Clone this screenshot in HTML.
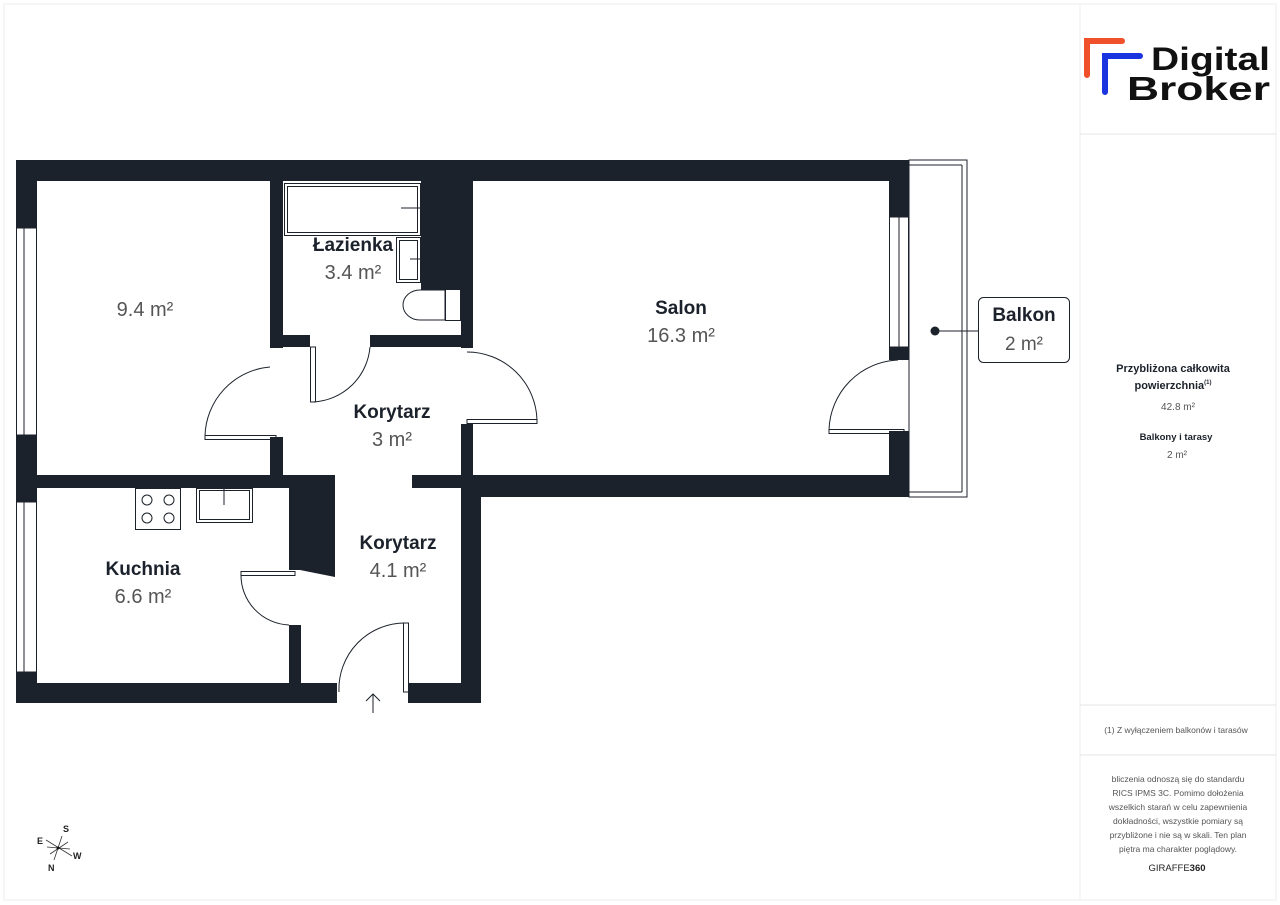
<!DOCTYPE html>
<html><head><meta charset="utf-8"><style>
html,body{margin:0;padding:0;background:#fff;}
svg{display:block;}
.b{font-family:"Liberation Sans",sans-serif;font-weight:bold;fill:#1c222b;}
.r{font-family:"Liberation Sans",sans-serif;fill:#555;}
</style></head><body>
<svg width="1280" height="905" viewBox="0 0 1280 905" xmlns="http://www.w3.org/2000/svg">
<rect x="4" y="4" width="1272" height="896" fill="none" stroke="#eee" stroke-width="1"/>
<line x1="1080" y1="4" x2="1080" y2="900" stroke="#eee"/>
<line x1="1080" y1="134" x2="1276" y2="134" stroke="#e6e6e6"/>
<line x1="1080" y1="705" x2="1276" y2="705" stroke="#e6e6e6"/>
<line x1="1080" y1="755" x2="1276" y2="755" stroke="#e6e6e6"/>
<!-- logo -->
<path d="M1087 75 V41 H1122" fill="none" stroke="#f0502a" stroke-width="6" stroke-linecap="round"/>
<path d="M1105 92 V56 H1140" fill="none" stroke="#1a35e0" stroke-width="6" stroke-linecap="round"/>
<text x="1151" y="70" font-family="Liberation Sans,sans-serif" font-weight="bold" font-size="32" fill="#111" textLength="119" lengthAdjust="spacingAndGlyphs">Digital</text>
<text x="1127" y="100" font-family="Liberation Sans,sans-serif" font-weight="bold" font-size="33" fill="#111" textLength="143" lengthAdjust="spacingAndGlyphs">Broker</text>
<!-- panel text -->
<text x="1173" y="372" text-anchor="middle" class="b" font-size="11">Przybliżona całkowita</text>
<text x="1173" y="389" text-anchor="middle" class="b" font-size="11">powierzchnia<tspan font-size="6" dy="-5">(1)</tspan></text>
<text x="1178" y="410" text-anchor="middle" class="r" font-size="10">42.8 m²</text>
<text x="1176" y="440" text-anchor="middle" class="b" font-size="9.5">Balkony i tarasy</text>
<text x="1177" y="458" text-anchor="middle" class="r" font-size="10">2 m²</text>
<text x="1176" y="733" text-anchor="middle" class="r" font-size="8.5">(1) Z wyłączeniem balkonów i tarasów</text>
<g class="r" font-size="8.5" text-anchor="middle">
<text x="1178" y="782">bliczenia odnoszą się do standardu</text>
<text x="1178" y="796">RICS IPMS 3C. Pomimo dołożenia</text>
<text x="1178" y="810">wszelkich starań w celu zapewnienia</text>
<text x="1178" y="824">dokładności, wszystkie pomiary są</text>
<text x="1178" y="838">przybliżone i nie są w skali. Ten plan</text>
<text x="1178" y="852">piętra ma charakter poglądowy.</text>
</g>
<text x="1177" y="871" text-anchor="middle" font-family="Liberation Sans,sans-serif" font-size="9.5" fill="#222">GIRAFFE<tspan font-weight="bold">360</tspan></text>
<!-- walls -->
<g fill="#1c222b">
<rect x="16" y="160" width="893" height="21"/>
<rect x="16" y="160" width="21" height="543"/>
<rect x="16" y="683" width="321" height="20"/>
<rect x="408" y="683" width="73" height="20"/>
<rect x="461" y="477" width="20" height="226"/>
<rect x="16" y="475" width="319" height="13"/>
<rect x="412" y="475" width="497" height="13"/>
<rect x="475" y="475" width="434" height="22"/>
<rect x="270" y="181" width="13" height="167"/>
<rect x="270" y="437" width="13" height="40"/>
<rect x="283" y="335" width="27" height="12"/>
<rect x="370" y="335" width="91" height="12"/>
<rect x="421" y="181" width="52" height="109"/>
<rect x="461" y="290" width="12" height="58"/>
<rect x="461" y="424" width="12" height="55"/>
<rect x="889" y="160" width="20" height="57"/>
<rect x="889" y="347" width="20" height="13"/>
<rect x="889" y="431" width="20" height="66"/>
<polygon points="289,487 335,487 335,577 300,570 289,570"/>
<rect x="289" y="625" width="12" height="60"/>
</g>
<!-- windows -->
<g fill="#fff" stroke="#1c222b" stroke-width="1">
<rect x="16.5" y="228" width="20" height="207"/>
<line x1="24" y1="228" x2="24" y2="435"/>
<rect x="16.5" y="502" width="20" height="170"/>
<line x1="24" y1="502" x2="24" y2="672"/>
<rect x="889.5" y="217" width="19" height="130"/>
<line x1="899" y1="217" x2="899" y2="347"/>
</g>
<!-- balcony -->
<rect x="909" y="160" width="58" height="337" fill="none" stroke="#1c222b" stroke-width="1"/>
<line x1="962" y1="165" x2="962" y2="492" stroke="#1c222b"/>
<line x1="909" y1="165" x2="962" y2="165" stroke="#1c222b"/>
<line x1="909" y1="492" x2="962" y2="492" stroke="#1c222b"/>
<circle cx="935" cy="331" r="4.5" fill="#1c222b"/>
<line x1="935" y1="331" x2="978" y2="331" stroke="#1c222b"/>
<rect x="978.5" y="297.5" width="91" height="65" rx="5" fill="#fff" stroke="#1c222b"/>
<text x="1024" y="321" text-anchor="middle" class="b" font-size="19">Balkon</text>
<text x="1024" y="350" text-anchor="middle" class="r" font-size="19">2 m²</text>
<!-- fixtures -->
<g fill="none" stroke="#1c222b" stroke-width="1">
<rect x="284.5" y="183.5" width="136" height="52"/><rect x="287.5" y="186.5" width="130" height="46"/>
<line x1="401" y1="208" x2="421" y2="208"/>
<rect x="396.5" y="237.5" width="24" height="45"/><rect x="399.5" y="240.5" width="18" height="39"/>
<line x1="410" y1="259" x2="421" y2="259"/>
<path d="M445 290 H420 A17 15 0 0 0 420 320 H445 Z"/>
<rect x="445.5" y="289.5" width="15" height="31"/>
<rect x="135.5" y="488.5" width="45" height="41"/>
<circle cx="147" cy="500" r="5"/><circle cx="169" cy="500" r="5"/>
<circle cx="147" cy="518" r="5"/><circle cx="169" cy="518" r="5"/>
<rect x="196.5" y="488.5" width="56" height="34"/><rect x="199.5" y="490.5" width="50" height="29"/>
<line x1="224" y1="488" x2="224" y2="505"/>
<!-- doors -->
<rect x="310.5" y="347" width="5" height="55"/>
<path d="M313 402 A60 60 0 0 0 370 347"/>
<rect x="205" y="435.5" width="71" height="4"/>
<path d="M205 436 A71 71 0 0 1 270 367"/>
<rect x="467" y="419.5" width="70" height="4"/>
<path d="M537 420 A70 70 0 0 0 467 352"/>
<rect x="829" y="429.5" width="75" height="4"/>
<path d="M829 430 A72 72 0 0 1 898 360"/>
<rect x="241" y="571.5" width="54" height="4"/>
<path d="M241 574 A50 50 0 0 0 289 625"/>
<rect x="403.5" y="623" width="5" height="69"/>
<path d="M339 692 A66 66 0 0 1 405 623"/>
<path d="M373 713 V694 M366 701 L373 694 L380 701"/>
</g>
<!-- labels -->
<text x="145" y="316" text-anchor="middle" class="r" font-size="20">9.4 m²</text>
<text x="353" y="251" text-anchor="middle" class="b" font-size="19">Łazienka</text>
<text x="353" y="279" text-anchor="middle" class="r" font-size="20">3.4 m²</text>
<text x="392" y="418" text-anchor="middle" class="b" font-size="19">Korytarz</text>
<text x="392" y="446" text-anchor="middle" class="r" font-size="20">3 m²</text>
<text x="681" y="314" text-anchor="middle" class="b" font-size="19">Salon</text>
<text x="681" y="342" text-anchor="middle" class="r" font-size="20">16.3 m²</text>
<text x="143" y="575" text-anchor="middle" class="b" font-size="19">Kuchnia</text>
<text x="143" y="603" text-anchor="middle" class="r" font-size="20">6.6 m²</text>
<text x="398" y="549" text-anchor="middle" class="b" font-size="19">Korytarz</text>
<text x="398" y="577" text-anchor="middle" class="r" font-size="20">4.1 m²</text>
<!-- compass -->
<g stroke="#333" stroke-width="0.8">
<line x1="46" y1="840" x2="72" y2="856"/><line x1="50" y1="854" x2="68" y2="842"/>
<line x1="62" y1="836" x2="54" y2="860"/><line x1="47" y1="847" x2="70" y2="849"/>
</g>
<circle cx="58" cy="848" r="1.5" fill="#111"/>
<g font-family="Liberation Sans,sans-serif" font-weight="bold" font-size="9" fill="#222">
<text x="63" y="832">S</text><text x="37" y="844">E</text><text x="73" y="859">W</text><text x="48" y="871">N</text>
</g>
</svg>
</body></html>
